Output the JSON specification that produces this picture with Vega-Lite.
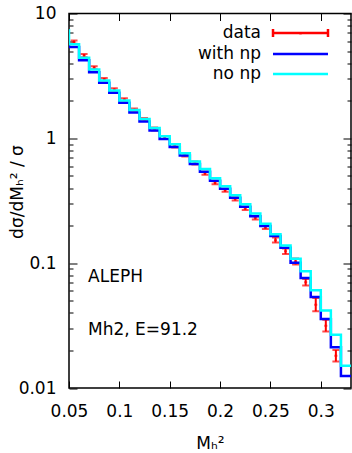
{
  "$schema": "https://vega.github.io/schema/vega-lite/v6.json",
  "width": 282,
  "height": 374.5,
  "autosize": {"type": "none"},
  "padding": {"left": 69, "top": 13.5, "right": 1, "bottom": 65},
  "config": {
    "view": {"stroke": "black", "strokeWidth": 1.5},
    "font": "DejaVu Sans",
    "axis": {"grid": false, "domain": false, "tickColor": "black", "tickWidth": 1, "labelFont": "DejaVu Sans", "labelFontSize": 17, "labelColor": "black", "titleFont": "DejaVu Sans", "titleFontSize": 17, "titleFontWeight": "normal", "titleColor": "black", "labelFlush": false, "labelOverlap": false, "labelBound": false}
  },
  "datasets": {
    "hist": [
      {"x": 0.04, "nonp": 7.3, "withnp": 5.6},
      {"x": 0.05, "nonp": 5.66, "withnp": 5.40},
      {"x": 0.06, "nonp": 4.43, "withnp": 4.23},
      {"x": 0.07, "nonp": 3.565, "withnp": 3.385},
      {"x": 0.08, "nonp": 2.905, "withnp": 2.786},
      {"x": 0.09, "nonp": 2.416, "withnp": 2.315},
      {"x": 0.10, "nonp": 2.007, "withnp": 1.924},
      {"x": 0.11, "nonp": 1.690, "withnp": 1.613},
      {"x": 0.12, "nonp": 1.431, "withnp": 1.366},
      {"x": 0.13, "nonp": 1.211, "withnp": 1.156},
      {"x": 0.14, "nonp": 1.04, "withnp": 0.99},
      {"x": 0.15, "nonp": 0.895, "withnp": 0.851},
      {"x": 0.16, "nonp": 0.761, "withnp": 0.728},
      {"x": 0.17, "nonp": 0.652, "withnp": 0.622},
      {"x": 0.18, "nonp": 0.567, "withnp": 0.541},
      {"x": 0.19, "nonp": 0.4796, "withnp": 0.458},
      {"x": 0.20, "nonp": 0.4137, "withnp": 0.395},
      {"x": 0.21, "nonp": 0.3501, "withnp": 0.334},
      {"x": 0.22, "nonp": 0.2963, "withnp": 0.283},
      {"x": 0.23, "nonp": 0.2495, "withnp": 0.2373},
      {"x": 0.24, "nonp": 0.2065, "withnp": 0.1983},
      {"x": 0.25, "nonp": 0.1702, "withnp": 0.1648},
      {"x": 0.26, "nonp": 0.1387, "withnp": 0.1329},
      {"x": 0.27, "nonp": 0.1084, "withnp": 0.1007},
      {"x": 0.28, "nonp": 0.0861, "withnp": 0.0762},
      {"x": 0.29, "nonp": 0.0606, "withnp": 0.0536},
      {"x": 0.30, "nonp": 0.0418, "withnp": 0.0357},
      {"x": 0.31, "nonp": 0.0267, "withnp": 0.02125},
      {"x": 0.32, "nonp": 0.0151, "withnp": 0.01248},
      {"x": 0.33, "nonp": 0.0151, "withnp": 0.01248}
    ],
    "data": [
      {"x": 0.055, "y": 5.90, "lo": 5.72, "hi": 6.08},
      {"x": 0.065, "y": 4.60, "lo": 4.47, "hi": 4.73},
      {"x": 0.075, "y": 3.68, "lo": 3.58, "hi": 3.78},
      {"x": 0.085, "y": 2.97, "lo": 2.89, "hi": 3.05},
      {"x": 0.095, "y": 2.447, "lo": 2.38, "hi": 2.52},
      {"x": 0.105, "y": 2.033, "lo": 1.98, "hi": 2.09},
      {"x": 0.115, "y": 1.690, "lo": 1.645, "hi": 1.735},
      {"x": 0.125, "y": 1.418, "lo": 1.38, "hi": 1.455},
      {"x": 0.135, "y": 1.189, "lo": 1.157, "hi": 1.221},
      {"x": 0.145, "y": 1.015, "lo": 0.988, "hi": 1.042},
      {"x": 0.155, "y": 0.868, "lo": 0.845, "hi": 0.891},
      {"x": 0.165, "y": 0.735, "lo": 0.715, "hi": 0.755},
      {"x": 0.175, "y": 0.634, "lo": 0.617, "hi": 0.651},
      {"x": 0.185, "y": 0.526, "lo": 0.511, "hi": 0.541},
      {"x": 0.195, "y": 0.441, "lo": 0.428, "hi": 0.454},
      {"x": 0.205, "y": 0.384, "lo": 0.373, "hi": 0.395},
      {"x": 0.215, "y": 0.328, "lo": 0.318, "hi": 0.338},
      {"x": 0.225, "y": 0.275, "lo": 0.267, "hi": 0.283},
      {"x": 0.235, "y": 0.2307, "lo": 0.224, "hi": 0.2375},
      {"x": 0.245, "y": 0.1935, "lo": 0.1875, "hi": 0.1995},
      {"x": 0.255, "y": 0.1529, "lo": 0.1466, "hi": 0.1608},
      {"x": 0.265, "y": 0.1248, "lo": 0.1185, "hi": 0.1312},
      {"x": 0.275, "y": 0.1031, "lo": 0.0975, "hi": 0.1090},
      {"x": 0.285, "y": 0.0703, "lo": 0.0661, "hi": 0.0748},
      {"x": 0.295, "y": 0.0465, "lo": 0.0411, "hi": 0.0526},
      {"x": 0.305, "y": 0.0315, "lo": 0.0284, "hi": 0.0352},
      {"x": 0.315, "y": 0.0181, "lo": 0.0163, "hi": 0.0202}
    ],
    "notes": [
      {"x": 0.0689, "y": 0.0774, "label": "ALEPH"},
      {"x": 0.0689, "y": 0.0291, "label": "Mh2, E=91.2"}
    ]
  },
  "layer": [
    {
      "data": {"name": "data"},
      "mark": {"type": "rule", "strokeWidth": 2, "clip": true},
      "encoding": {
        "x": {"field": "x", "type": "quantitative", "scale": {"type": "linear", "domain": [0.05, 0.33], "nice": false, "zero": false},
              "axis": {"orient": "bottom", "values": [0.05, 0.1, 0.15, 0.2, 0.25, 0.3], "format": "~g", "tickSize": -7, "labelPadding": 22, "title": "Mₕ²", "titleX": 141, "titleY": 55, "titleBaseline": "middle", "titleAlign": "center"}},
        "y": {"field": "lo", "type": "quantitative", "scale": {"type": "log", "domain": [0.01, 10], "nice": false},
              "axis": {"orient": "left", "values": [0.01, 0.1, 1, 10], "format": "~g", "tickSize": -8, "labelPadding": 21, "title": "dσ/dMₕ² / σ", "titleAngle": -90, "titleX": -52, "titleY": 178, "titleBaseline": "middle", "titleAlign": "center"}},
        "y2": {"field": "hi"},
        "color": {"datum": "data", "type": "nominal",
                  "scale": {"domain": ["data", "with np", "no np"], "range": ["#ff0000", "#0000ff", "#00ffff"]},
                  "legend": {"orient": "none", "legendX": 221, "legendY": 9, "title": null, "labelFont": "DejaVu Sans", "labelFontSize": 17, "labelColor": "black", "labelAlign": "right", "labelOffset": -50, "symbolSize": 336, "symbolStrokeWidth": 2.5, "rowPadding": 1,
                             "encode": {"symbols": {"update": {"shape": {"signal": "datum.value === 'data' ? 'M-3,0H3M-3,-0.45V0.45M3,-0.45V0.45M0,-0.15V0.15' : 'M-3,0H3'"}}}}}}
      }
    },
    {
      "data": {"name": "data"},
      "mark": {"type": "tick", "orient": "horizontal", "size": 7, "thickness": 2, "clip": true},
      "encoding": {
        "x": {"field": "x", "type": "quantitative", "axis": {"orient": "top", "values": [0.05, 0.1, 0.15, 0.2, 0.25, 0.3], "labels": false, "tickSize": -7, "title": null}},
        "y": {"field": "lo", "type": "quantitative", "axis": {"orient": "right", "values": [0.01, 0.1, 1, 10], "labels": false, "tickSize": -8, "title": null}},
        "color": {"datum": "data", "type": "nominal"}
      }
    },
    {
      "data": {"name": "data"},
      "mark": {"type": "tick", "orient": "horizontal", "size": 7, "thickness": 2, "clip": true},
      "encoding": {
        "x": {"field": "x", "type": "quantitative", "axis": null},
        "y": {"field": "hi", "type": "quantitative", "axis": {"orient": "left", "values": [0.02, 0.03, 0.04, 0.05, 0.06, 0.07, 0.08, 0.09, 0.2, 0.3, 0.4, 0.5, 0.6, 0.7, 0.8, 0.9, 2, 3, 4, 5, 6, 7, 8, 9], "labels": false, "tickSize": -4, "title": null}},
        "color": {"datum": "data", "type": "nominal"}
      }
    },
    {
      "data": {"name": "data"},
      "mark": {"type": "tick", "orient": "horizontal", "size": 3, "thickness": 2, "clip": true},
      "encoding": {
        "x": {"field": "x", "type": "quantitative", "axis": null},
        "y": {"field": "y", "type": "quantitative", "axis": {"orient": "right", "values": [0.02, 0.03, 0.04, 0.05, 0.06, 0.07, 0.08, 0.09, 0.2, 0.3, 0.4, 0.5, 0.6, 0.7, 0.8, 0.9, 2, 3, 4, 5, 6, 7, 8, 9], "labels": false, "tickSize": -4, "title": null}},
        "color": {"datum": "data", "type": "nominal"}
      }
    },
    {
      "data": {"name": "hist"},
      "mark": {"type": "line", "interpolate": "step-after", "strokeWidth": 2.5, "clip": true},
      "encoding": {
        "x": {"field": "x", "type": "quantitative", "axis": null},
        "y": {"field": "withnp", "type": "quantitative", "axis": null},
        "color": {"datum": "with np", "type": "nominal"}
      }
    },
    {
      "data": {"name": "hist"},
      "mark": {"type": "line", "interpolate": "step-after", "strokeWidth": 2.5, "clip": true},
      "encoding": {
        "x": {"field": "x", "type": "quantitative", "axis": null},
        "y": {"field": "nonp", "type": "quantitative", "axis": null},
        "color": {"datum": "no np", "type": "nominal"}
      }
    },
    {
      "data": {"name": "notes"},
      "mark": {"type": "text", "align": "left", "baseline": "middle", "font": "DejaVu Sans", "fontSize": 17, "color": "black"},
      "encoding": {
        "x": {"field": "x", "type": "quantitative", "axis": null},
        "y": {"field": "y", "type": "quantitative", "axis": null},
        "text": {"field": "label"}
      }
    }
  ],
  "resolve": {"axis": {"x": "independent", "y": "independent"}}
}
